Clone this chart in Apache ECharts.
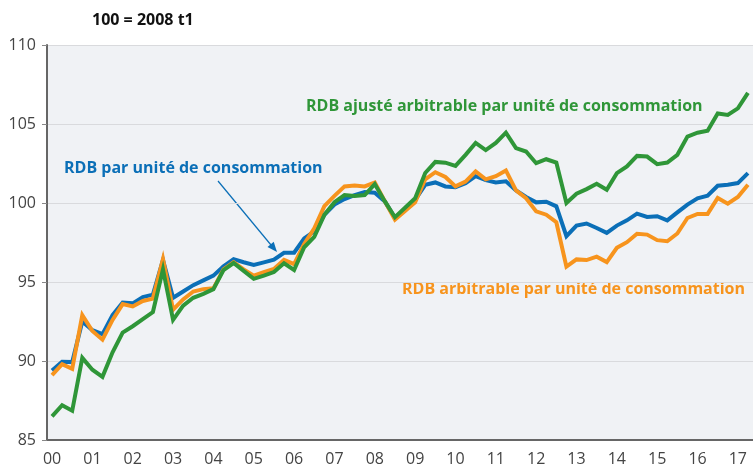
<!DOCTYPE html>
<html>
<head>
<meta charset="utf-8">
<script src="https://cdn.jsdelivr.net/npm/echarts@6/dist/echarts.min.js"></script>
<style>
  html, body { margin: 0; padding: 0; background: #ffffff; }
  #chart { width: 753px; height: 467px; }
</style>
</head>
<body>
<div id="chart"></div>
<script>
// trimestres 2000 t1 -> 2017 t2
var years = ['00', '01', '02', '03', '04', '05', '06', '07', '08', '09', '10', '11', '12', '13', '14', '15', '16', '17'];
var quarters = [];
years.forEach(function (y) {
    for (var q = 1; q <= 4; q++) quarters.push(y + ' t' + q);
});
quarters = quarters.slice(0, 70);

// RDB par unité de consommation
var rdbUc = [
    89.4, 89.95, 89.93, 92.5, 91.95, 91.7, 92.9, 93.7, 93.65, 94.05,
    94.2, 96.4, 94.0, 94.4, 94.8, 95.1, 95.4, 96.0, 96.45, 96.25,
    96.08, 96.24, 96.41, 96.85, 96.85, 97.75, 98.2, 99.25, 99.9, 100.25,
    100.5, 100.7, 100.65, 100.1, 99.05, 99.6, 100.2, 101.15, 101.3, 101.05,
    101.0, 101.25, 101.7, 101.45, 101.3, 101.37, 100.8, 100.38, 100.04, 100.08,
    99.79, 97.9, 98.57, 98.7, 98.42, 98.11, 98.57, 98.9, 99.33, 99.12,
    99.16, 98.9, 99.41, 99.9, 100.3, 100.46, 101.09, 101.16, 101.26, 101.89
];
// RDB arbitrable par unité de consommation
var rdbArbUc = [
    89.1, 89.8, 89.5, 92.9, 91.9, 91.35, 92.6, 93.6, 93.45, 93.8,
    93.95, 96.45, 93.25, 93.9, 94.4, 94.55, 94.6, 95.8, 96.25, 95.8,
    95.4, 95.62, 95.83, 96.4, 96.13, 97.4, 98.4, 99.8, 100.45, 101.05,
    101.1, 101.05, 101.3, 100.1, 98.95, 99.5, 100.05, 101.5, 101.95, 101.65,
    101.05, 101.35, 102.0, 101.5, 101.7, 102.06, 100.8, 100.3, 99.47, 99.26,
    98.78, 95.97, 96.43, 96.39, 96.6, 96.26, 97.16, 97.52, 98.05, 98.0,
    97.65, 97.58, 98.07, 99.05, 99.31, 99.31, 100.32, 99.96, 100.38, 101.16
];
// RDB ajusté arbitrable par unité de consommation
var rdbAjArbUc = [
    86.5, 87.2, 86.85, 90.2, 89.45, 89.0, 90.55, 91.8, 92.2, 92.65,
    93.1, 95.8, 92.6, 93.5, 94.0, 94.25, 94.55, 95.75, 96.2, 95.7,
    95.2, 95.4, 95.63, 96.18, 95.76, 97.2, 97.85, 99.25, 100.05, 100.5,
    100.45, 100.5, 101.2, 100.1, 99.1, 99.7, 100.3, 101.9, 102.6, 102.55,
    102.35, 103.05, 103.8, 103.35, 103.8, 104.45, 103.47, 103.26, 102.52, 102.77,
    102.56, 100.0, 100.59, 100.88, 101.22, 100.84, 101.89, 102.31, 102.98, 102.94,
    102.46, 102.56, 103.05, 104.2, 104.45, 104.58, 105.67, 105.57, 105.99, 106.97
];

var BLUE = '#0b6fb7';
var ORANGE = '#f7941d';
var GREEN = '#2f9638';
var FONT = '"Open Sans", sans-serif';

var myChart = echarts.init(document.getElementById('chart'));

function lineSerie(name, data, color) {
    return {
        name: name,
        type: 'line',
        data: data,
        symbol: 'none',
        lineStyle: { color: color, width: 4, join: 'miter' },
        itemStyle: { color: color },
        animation: false
    };
}

// étiquettes de courbe
function label(text, x, y, color) {
    return {
        type: 'text',
        x: x,
        y: y,
        style: {
            text: text,
            fill: color,
            font: 'bold 16px ' + FONT,
            align: 'left',
            verticalAlign: 'middle'
        }
    };
}

var options = {
    animation: false,
    backgroundColor: '#ffffff',
    grid: {
        show: true,
        left: 47,
        right: -3,
        top: 45,
        bottom: 27,
        backgroundColor: '#f0f2f5',
        borderWidth: 0
    },
    xAxis: {
        type: 'category',
        data: quarters,
        boundaryGap: true,
        axisLine: { lineStyle: { color: '#666666', width: 2 } },
        axisTick: { interval: 3, length: 5, lineStyle: { color: '#888888', width: 1 } },
        axisLabel: {
            interval: 3,
            margin: 11,
            color: '#444444',
            fontSize: 16,
            fontFamily: FONT,
            formatter: function (v) { return v.slice(0, 2); }
        },
        splitLine: { show: false }
    },
    yAxis: {
        type: 'value',
        min: 85,
        max: 110,
        interval: 5,
        axisLine: { show: true, lineStyle: { color: '#666666', width: 2 } },
        axisTick: { show: true, length: 5, lineStyle: { color: '#888888', width: 1 } },
        axisLabel: {
            margin: 11,
            color: '#444444',
            fontSize: 16,
            fontFamily: FONT
        },
        splitLine: { lineStyle: { color: '#d9dadd', width: 1 } }
    },
    series: [
        lineSerie('RDB par unité de consommation', rdbUc, BLUE),
        lineSerie('RDB arbitrable par unité de consommation', rdbArbUc, ORANGE),
        lineSerie('RDB ajusté arbitrable par unité de consommation', rdbAjArbUc, GREEN)
    ],
    graphic: [
        {
            type: 'text',
            x: 92,
            y: 20,
            style: { text: '100 = 2008 t1', fill: '#111111', font: 'bold 16px ' + FONT, verticalAlign: 'middle' }
        },
        label('RDB ajusté arbitrable par unité de consommation', 306, 106, GREEN),
        label('RDB par unité de consommation', 64, 168, BLUE),
        label('RDB arbitrable par unité de consommation', 402, 289, ORANGE),
        // flèche vers la courbe bleue
        {
            type: 'line',
            shape: { x1: 218, y1: 181, x2: 271, y2: 245 },
            style: { stroke: BLUE, lineWidth: 1.2 }
        },
        {
            type: 'polygon',
            shape: { points: [[277, 252], [267.5, 246.9], [273.7, 241.7]] },
            style: { fill: BLUE }
        }
    ]
};

myChart.setOption(options);
</script>
</body>
</html>
